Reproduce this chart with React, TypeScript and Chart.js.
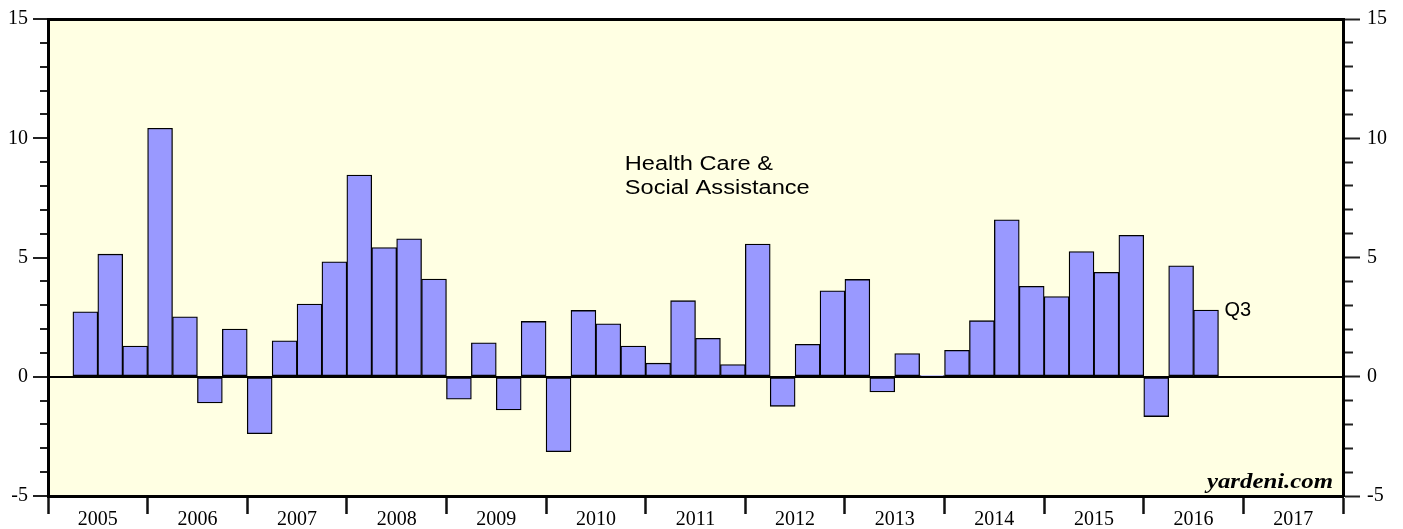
import React, { useEffect, useRef } from 'react';
import { Chart, registerables } from 'chart.js';

Chart.register(...registerables);

// ---- data -------------------------------------------------------------
const quarters = [
  '2005Q2', '2005Q3', '2005Q4',
  '2006Q1', '2006Q2', '2006Q3', '2006Q4',
  '2007Q1', '2007Q2', '2007Q3', '2007Q4',
  '2008Q1', '2008Q2', '2008Q3', '2008Q4',
  '2009Q1', '2009Q2', '2009Q3', '2009Q4',
  '2010Q1', '2010Q2', '2010Q3', '2010Q4',
  '2011Q1', '2011Q2', '2011Q3', '2011Q4',
  '2012Q1', '2012Q2', '2012Q3', '2012Q4',
  '2013Q1', '2013Q2', '2013Q3', '2013Q4',
  '2014Q1', '2014Q2', '2014Q3', '2014Q4',
  '2015Q1', '2015Q2', '2015Q3', '2015Q4',
  '2016Q1', '2016Q2', '2016Q3',
];

const growth = [
  2.72, 5.14, 1.29,
  10.42, 2.51, -1.10, 2.0,
  -2.39, 1.51, 3.05, 4.82,
  8.46, 5.42, 5.78, 4.10,
  -0.94, 1.42, -1.39, 2.32,
  -3.14, 2.78, 2.22, 1.29,
  0.57, 3.19, 1.61, 0.51,
  5.56, -1.24, 1.36, 3.60,
  4.08, -0.64, 0.97, 0.05,
  1.11, 2.35, 6.58, 3.79,
  3.36, 5.25, 4.38, 5.93,
  -1.67, 4.65, 2.80,
];

const yearLabels = [
  '2005', '2006', '2007', '2008', '2009', '2010', '2011',
  '2012', '2013', '2014', '2015', '2016', '2017',
];

const yMin = -5;
const yMax = 15;
const yMajorStep = 5;

const titleLines = ['Health Care &', 'Social Assistance'];
const lastLabel = 'Q3';
const sourceLabel = 'yardeni.com';

// -----------------------------------------------------------------------

const firstYear = parseInt(yearLabels[0], 10);
const lastYearEnd = parseInt(yearLabels[yearLabels.length - 1], 10) + 1;

function quarterCenter(q: string): number {
  const y = parseInt(q.slice(0, 4), 10);
  const n = parseInt(q.slice(5), 10);
  return y + (n - 1) / 4 + 0.125;
}

const isInt = (v: number) => Math.abs(v - Math.round(v)) < 1e-6;
const isMajor = (v: number) => Math.abs(v / yMajorStep - Math.round(v / yMajorStep)) < 1e-6;

const SERIF = '"Liberation Serif", "Times New Roman", serif';
const SANS = '"Liberation Sans", Arial, sans-serif';

const decorPlugin = {
  id: 'decor',
  beforeDraw(chart: any) {
    const { ctx, chartArea: a } = chart;
    ctx.save();
    ctx.fillStyle = '#FFFFE3';
    ctx.fillRect(a.left, a.top, a.right - a.left, a.bottom - a.top);
    ctx.restore();
  },
  afterDraw(chart: any) {
    const { ctx, chartArea: a } = chart;
    const xs = chart.scales.x;
    const ys = chart.scales.y;
    ctx.save();
    ctx.fillStyle = '#000';

    // title (slightly wide lettering, as in the reference)
    const tx = xs.getPixelForValue(2010.79);
    const ty = ys.getPixelForValue(8.67);
    ctx.save();
    ctx.translate(tx, ty);
    ctx.scale(1.18, 1);
    ctx.font = `20px ${SANS}`;
    ctx.textAlign = 'left';
    ctx.textBaseline = 'alphabetic';
    titleLines.forEach((line, i) => ctx.fillText(line, 0, i * 24));
    ctx.restore();

    // last-quarter label
    const meta = chart.getDatasetMeta(0);
    const last: any = meta.data[meta.data.length - 1];
    if (last) {
      ctx.font = `20px ${SANS}`;
      ctx.textAlign = 'left';
      ctx.textBaseline = 'middle';
      ctx.fillText(lastLabel, last.x + last.width / 2 + 6, last.y + 1);
    }

    // source
    ctx.save();
    ctx.translate(a.right - 10, a.bottom - 8);
    ctx.scale(1.24, 1);
    ctx.font = `italic bold 20px ${SERIF}`;
    ctx.textAlign = 'right';
    ctx.textBaseline = 'alphabetic';
    ctx.fillText(sourceLabel, 0, 0);
    ctx.restore();

    ctx.restore();
  },
};

export default function App() {
  const canvasRef = useRef<HTMLCanvasElement | null>(null);

  useEffect(() => {
    document.body.style.margin = '0';
    const canvas = canvasRef.current;
    if (!canvas) return;

    const tickFont = { family: SERIF, size: 20 };

    const chart = new Chart(canvas, {
      type: 'bar',
      data: {
        datasets: [
          {
            data: quarters.map((q, i) => ({ x: quarterCenter(q), y: growth[i] })),
            backgroundColor: '#9999FF',
            borderColor: '#000000',
            borderWidth: 1.3,
            borderSkipped: false,
            barPercentage: 1,
            categoryPercentage: 1,
            xAxisID: 'x',
            yAxisID: 'y',
          } as any,
        ],
      },
      options: {
        animation: false,
        responsive: true,
        maintainAspectRatio: false,
        layout: { padding: 0 },
        plugins: {
          legend: { display: false },
          tooltip: { enabled: false },
        },
        scales: {
          x: {
            type: 'linear',
            position: 'bottom',
            min: firstYear,
            max: lastYearEnd,
            offset: false,
            afterFit: (s: any) => { s.height = 33; },
            grid: {
              offset: false,
              drawOnChartArea: false,
              drawTicks: true,
              tickLength: 18,
              tickWidth: 2.5,
              tickColor: (c: any) => (c.tick && isInt(c.tick.value) ? '#111' : 'rgba(0,0,0,0)'),
            },
            border: { display: true, color: '#000', width: 3 },
            ticks: {
              stepSize: 0.5,
              autoSkip: false,
              maxRotation: 0,
              minRotation: 0,
              padding: -6,
              color: '#000',
              font: tickFont,
              callback: (v: any) => {
                const n = Number(v);
                if (isInt(n)) return '';
                const idx = Math.floor(n) - firstYear;
                return yearLabels[idx] ?? '';
              },
            },
          },
          xTop: {
            type: 'linear',
            position: 'top',
            min: firstYear,
            max: lastYearEnd,
            afterFit: (s: any) => { s.height = 16; },
            grid: { display: false, drawTicks: false },
            ticks: { display: false },
            border: { display: true, color: '#000', width: 3 },
          },
          y: {
            type: 'linear',
            position: 'left',
            min: yMin,
            max: yMax,
            z: 1,
            afterFit: (s: any) => { s.width = 48; },
            grid: {
              drawOnChartArea: true,
              drawTicks: true,
              tickLength: 15,
              lineWidth: 2,
              tickWidth: 2,
              color: (c: any) => (c.tick && c.tick.value === 0 ? '#000' : 'rgba(0,0,0,0)'),
              tickColor: '#222',
              tickBorderDash: (c: any) => (c.tick && !isMajor(c.tick.value) ? [0, 7, 10, 100] : []),
            } as any,
            border: { display: true, color: '#000', width: 3 },
            ticks: {
              stepSize: 1,
              autoSkip: false,
              padding: 5,
              color: '#000',
              font: tickFont,
              callback: (v: any) => (isMajor(Number(v)) ? String(v) : ''),
            },
          },
          y2: {
            type: 'linear',
            position: 'right',
            min: yMin,
            max: yMax,
            afterFit: (s: any) => { s.width = 60; },
            grid: {
              drawOnChartArea: false,
              drawTicks: true,
              tickLength: 17,
              tickWidth: 2,
              tickColor: '#222',
              tickBorderDash: (c: any) => (c.tick && !isMajor(c.tick.value) ? [8, 100] : []),
            } as any,
            border: { display: true, color: '#000', width: 3 },
            ticks: {
              stepSize: 1,
              autoSkip: false,
              padding: 7,
              color: '#000',
              font: tickFont,
              callback: (v: any) => (isMajor(Number(v)) ? String(v) : ''),
            },
          },
        },
      } as any,
      plugins: [decorPlugin],
    });

    return () => chart.destroy();
  }, []);

  return (
    <div style={{ width: 1403, height: 529, position: 'relative', background: '#fff' }}>
      <canvas ref={canvasRef} />
    </div>
  );
}
